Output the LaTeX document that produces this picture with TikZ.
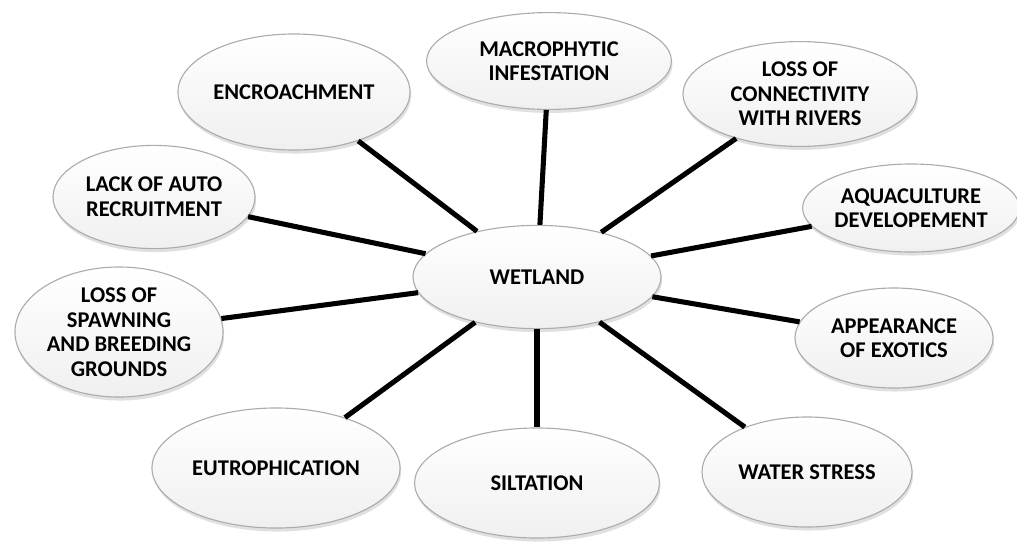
\documentclass[tikz,border=0pt]{standalone}
\usepackage{fontspec}
\setmainfont{Carlito}
\usetikzlibrary{shapes.geometric,shadows}

\begin{document}
\begin{tikzpicture}[x=0.025cm,y=-0.025cm,
  bubble/.style={ellipse,draw=gray!65,line width=0.8pt,inner sep=0pt,align=center,
    top color=white,bottom color=gray!12,
    drop shadow={shadow xshift=0.8pt,shadow yshift=-2.5pt,opacity=0.3,fill=gray!80},
    font=\fontsize{16}{17.5}\selectfont\bfseries},
  link/.style={line width=3.6pt}]
\useasboundingbox (0,0) rectangle (1017,541);
\node [bubble,minimum width=6.2cm,minimum height=2.58cm] (wet) at (537,277) {WETLAND};
\node [bubble,minimum width=5.8cm,minimum height=2.9cm] (enc) at (294,92) {ENCROACHMENT};
\node [bubble,minimum width=6.12cm,minimum height=2.42cm] (mac) at (549,61) {MACROPHYTIC\\INFESTATION};
\node [bubble,minimum width=5.85cm,minimum height=2.62cm] (con) at (800,94) {LOSS OF\\CONNECTIVITY\\WITH RIVERS};
\node [bubble,minimum width=5.3cm,minimum height=2.2cm] (aqu) at (911,208) {AQUACULTURE\\DEVELOPEMENT};
\node [bubble,minimum width=4.95cm,minimum height=2.5cm] (app) at (894,338) {APPEARANCE\\OF EXOTICS};
\node [bubble,minimum width=5.25cm,minimum height=2.75cm] (wat) at (807,472) {WATER STRESS};
\node [bubble,minimum width=6.12cm,minimum height=2.75cm] (sil) at (537,483) {SILTATION};
\node [bubble,minimum width=6.2cm,minimum height=3cm] (eut) at (276,468) {EUTROPHICATION};
\node [bubble,minimum width=5.2cm,minimum height=3.25cm] (spa) at (119,332) {LOSS OF\\SPAWNING\\AND BREEDING\\GROUNDS};
\node [bubble,minimum width=5.05cm,minimum height=2.58cm] (lac) at (154,197) {LACK OF AUTO\\RECRUITMENT};

% spokes from the centre
\draw [link] (wet) -- (enc);
\draw [link] (wet) -- (mac);
\draw [link] (wet) -- (con);
\draw [link] (wet) -- (aqu);
\draw [link] (wet) -- (app);
\draw [link] (wet) -- (wat);
\draw [link] (wet) -- (sil);
\draw [link] (wet) -- (eut);
\draw [link] (wet) -- (spa);
\draw [link] (wet) -- (lac);
\end{tikzpicture}
\end{document}
